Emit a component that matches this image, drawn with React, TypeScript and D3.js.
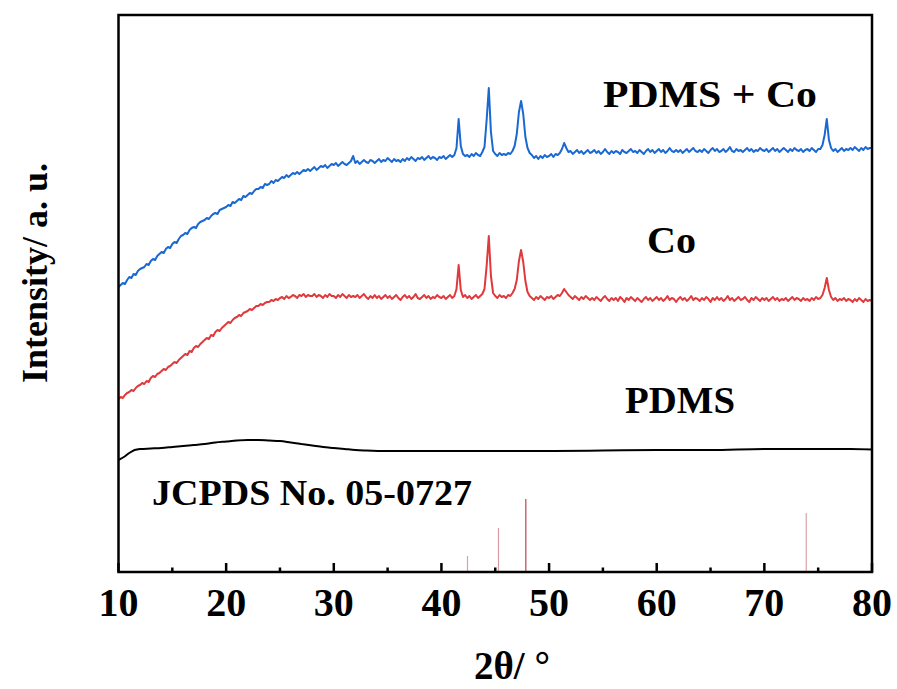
import React from "react";
import * as d3 from "d3";

// 2θ grid: 10 → 80 in steps of 0.2°
const X_START = 10;
const X_STEP = 0.2;

// PDMS + Co (blue) intensities
const pdmsCo: number[] = [
  285,287,289,288,292,295,294,298,297,301,
  303,304,305,308,307,311,313,312,316,318,
  320,319,323,325,324,328,330,329,333,336,
  337,339,338,342,344,345,344,348,350,351,
  352,354,353,356,358,359,358,362,363,364,
  365,367,366,370,369,371,373,372,376,375,
  377,379,378,381,383,383,385,384,388,387,
  388,391,389,392,391,393,395,394,397,395,
  397,399,398,400,398,400,402,401,403,401,
  403,405,402,404,406,405,407,404,406,408,
  407,409,406,408,410,408,407,409,411,416,
  409,411,408,410,412,410,409,412,411,409,
  411,413,410,412,411,414,412,410,413,411,
  412,410,413,411,414,412,415,413,411,414,
  413,415,412,414,416,413,415,414,412,415,
  414,416,413,415,417,415,417,424,453,426,
  418,416,417,415,418,416,419,417,416,420,
  425,452,484,440,421,418,416,419,417,418,
  417,419,418,421,426,438,460,471,458,435,
  424,419,417,414,416,413,416,414,417,415,
  416,418,415,418,417,419,423,429,424,420,
  421,418,420,422,419,421,418,420,422,419,
  420,422,419,421,418,420,423,420,418,421,
  419,421,420,418,422,420,419,421,423,420,
  421,419,422,420,418,421,423,420,422,419,
  421,423,420,422,419,421,424,421,420,422,
  420,422,419,421,423,420,422,424,421,420,
  422,420,423,421,419,422,424,421,423,420,
  421,423,420,422,425,421,420,423,421,422,
  420,422,424,421,423,420,422,421,424,422,
  421,423,420,422,424,421,423,420,422,424,
  422,420,423,421,424,422,421,423,420,422,
  423,421,424,422,420,423,423,427,437,453,
  432,424,421,423,420,422,424,421,423,422,
  424,422,425,423,421,424,422,425,423,424,
  424,
];

// Co (red) intensities
const co: number[] = [
  173,175,174,177,179,180,182,181,184,186,
  187,189,188,191,190,194,196,195,198,199,
  201,203,202,205,206,208,210,209,212,214,
  216,218,217,221,220,224,226,225,228,230,
  232,234,233,237,236,240,242,241,244,246,
  248,250,249,252,254,255,257,256,259,260,
  261,263,262,264,266,266,268,267,269,270,
  270,272,271,273,272,274,275,273,276,274,
  275,277,276,274,277,276,278,275,277,276,
  276,278,275,277,276,274,277,275,278,276,
  276,274,277,275,278,276,274,277,275,276,
  275,277,274,276,278,275,273,276,274,277,
  274,276,273,275,277,274,276,273,275,277,
  274,272,275,277,274,276,273,275,278,274,
  273,275,277,274,276,273,275,274,277,275,
  274,276,273,275,277,274,276,283,307,282,
  275,277,274,276,273,275,277,274,276,278,
  283,306,336,296,279,276,274,277,275,276,
  274,277,276,279,283,292,311,322,310,291,
  280,276,274,272,275,273,276,274,272,275,
  274,276,273,275,277,276,279,283,280,277,
  275,273,276,274,272,275,273,276,274,272,
  274,272,275,273,271,274,276,273,271,274,
  272,274,271,275,273,270,274,272,275,273,
  271,274,272,270,273,275,272,274,271,273,
  275,272,274,271,273,276,272,274,273,270,
  273,275,272,274,271,273,276,272,274,273,
  271,274,272,275,273,270,274,272,275,272,
  274,271,273,276,272,274,271,273,275,272,
  273,275,272,270,274,272,275,273,271,274,
  272,274,271,273,275,272,274,271,273,272,
  274,271,273,275,272,274,273,271,274,272,
  273,271,274,272,275,273,274,277,284,294,
  282,275,272,274,271,273,272,274,271,273,
  272,270,273,271,274,272,270,273,271,272,
  271,
];

// PDMS (black) – smooth curve
const pdmsX: number[] = [10,10.5,11,11.5,12,13,14,15,16,17,18,19,20,21,22,23,24,25,26,27,28,29,30,31,32,33,35,40,45,50,55,60,65,70,75,78,80];
const pdmsY: number[] = [112,115,119,122,123,123.5,124,125,126,127,128,129.5,130.5,131.5,132,132,131.5,131,129.5,128,126.5,125,124,123,122,121.5,121,121,121,121,121.5,122,122,123,123,123,122.5];

// JCPDS No. 05-0727 reference lines
const refPos: number[] = [42.42, 45.3, 47.84, 73.89];
const refInt: number[] = [16, 44, 73, 59];
const refColor: string[] = ["#d9a3aa", "#d69ba3", "#b8474f", "#d9a3aa"];

const xTicks: number[] = [10, 20, 30, 40, 50, 60, 70, 80];
const xMinor: number[] = [15, 25, 35, 45, 55, 65, 75];

const W = 897, H = 689;
const M = { left: 118.5, right: 872, top: 15, bottom: 572 };
const FONT = "'Times New Roman', 'Liberation Serif', serif";

export default function App() {
  const x = d3.scaleLinear().domain([10, 80]).range([M.left, M.right]);
  const y = d3.scaleLinear().domain([0, 557]).range([M.bottom, M.top]);

  const toPts = (arr: number[]) => arr.map((v, i) => [X_START + i * X_STEP, v] as [number, number]);
  const line = d3.line<[number, number]>().x(d => x(d[0])).y(d => y(d[1]));
  const smooth = d3.line<[number, number]>().x(d => x(d[0])).y(d => y(d[1])).curve(d3.curveMonotoneX);
  const pdmsPts = pdmsX.map((v, i) => [v, pdmsY[i]] as [number, number]);

  return (
    <svg width={W} height={H} style={{ position: "absolute", left: 0, top: 0, background: "#fff" }}>
      <rect x={0} y={0} width={W} height={H} fill="#fff" />
      {/* reference sticks */}
      {refPos.map((p, i) => (
        <line key={i} x1={x(p)} x2={x(p)} y1={y(0)} y2={y(refInt[i])} stroke={refColor[i]} strokeWidth={1.2} />
      ))}
      <path d={smooth(pdmsPts) || ""} fill="none" stroke="#000" strokeWidth={2} />
      <path d={line(toPts(co)) || ""} fill="none" stroke="#e0393c" strokeWidth={2} strokeLinejoin="round" />
      <path d={line(toPts(pdmsCo)) || ""} fill="none" stroke="#1a68d1" strokeWidth={2} strokeLinejoin="round" />

      {/* frame */}
      <rect x={M.left} y={M.top} width={M.right - M.left} height={M.bottom - M.top} fill="none" stroke="#000" strokeWidth={2.5} />
      {xTicks.map(t => (
        <line key={"M" + t} x1={x(t)} x2={x(t)} y1={M.bottom} y2={M.bottom - 9} stroke="#000" strokeWidth={2.5} />
      ))}
      {xMinor.map(t => (
        <line key={"m" + t} x1={x(t)} x2={x(t)} y1={M.bottom} y2={M.bottom - 4.5} stroke="#000" strokeWidth={2.5} />
      ))}
      {xTicks.map(t => (
        <text key={"l" + t} x={x(t)} y={616} textAnchor="middle" fontFamily={FONT} fontWeight="bold" fontSize={40}>{t}</text>
      ))}

      <text x={512} y={679} textAnchor="middle" fontFamily={FONT} fontWeight="bold" fontSize={39}>2θ/ °</text>
      <text transform="translate(47,273) rotate(-90)" textAnchor="middle" fontFamily={FONT} fontWeight="bold" fontSize={36}>Intensity/ a. u.</text>

      <text x={603} y={107} fontFamily={FONT} fontWeight="bold" fontSize={38} textLength={214} lengthAdjust="spacingAndGlyphs">PDMS + Co</text>
      <text x={647} y={253} fontFamily={FONT} fontWeight="bold" fontSize={38} textLength={49} lengthAdjust="spacingAndGlyphs">Co</text>
      <text x={625} y={413} fontFamily={FONT} fontWeight="bold" fontSize={38} textLength={110} lengthAdjust="spacingAndGlyphs">PDMS</text>
      <text x={152} y={505} fontFamily={FONT} fontWeight="bold" fontSize={36} textLength={320} lengthAdjust="spacingAndGlyphs">JCPDS No. 05-0727</text>
    </svg>
  );
}
